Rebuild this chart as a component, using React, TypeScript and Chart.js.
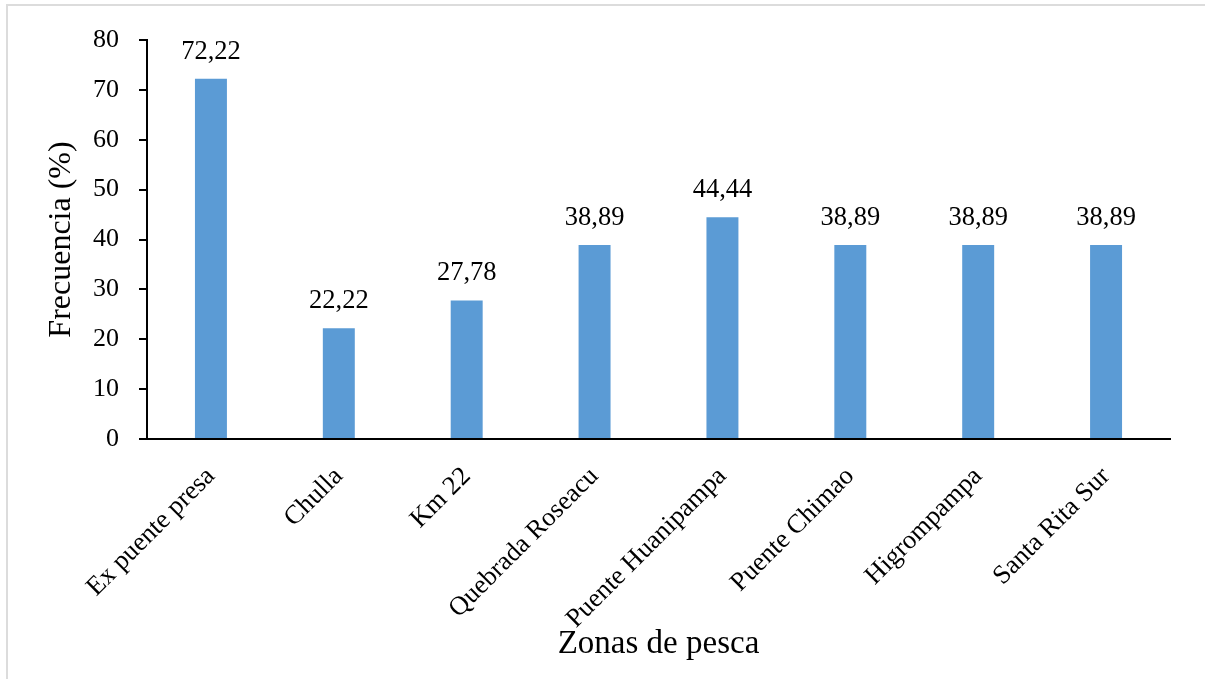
import { useEffect, useRef } from "react";
import { Chart, registerables } from "chart.js";

Chart.register(...registerables);

// Fishing zones and the frequency (%) recorded at each one
const zonas = [
  "Ex puente presa",
  "Chulla",
  "Km 22",
  "Quebrada Roseacu",
  "Puente Huanipampa",
  "Puente Chimao",
  "Higrompampa",
  "Santa Rita Sur",
];
const frecuencia = [72.22, 22.22, 27.78, 38.89, 44.44, 38.89, 38.89, 38.89];

// Value axis range
const yMin = 0;
const yMax = 80;
const yStep = 10;

const SERIF = "'Liberation Serif', 'Times New Roman', Times, serif";
const BAR_BLUE = "#5B9BD5";

// Spanish decimal format: 72.22 -> "72,22"
const fmt = (v: number) => v.toFixed(2).replace(".", ",");

// Writes each bar's value above it
const valueLabels = {
  id: "valueLabels",
  afterDatasetsDraw(chart: Chart) {
    const { ctx } = chart;
    const meta = chart.getDatasetMeta(0);
    ctx.save();
    ctx.font = `26.5px ${SERIF}`;
    ctx.fillStyle = "#000";
    ctx.textAlign = "center";
    ctx.textBaseline = "alphabetic";
    meta.data.forEach((bar: any, i: number) => {
      ctx.fillText(fmt(frecuencia[i]), bar.x, bar.y - 20);
    });
    ctx.restore();
  },
};

export default function App() {
  const canvasRef = useRef<HTMLCanvasElement | null>(null);

  useEffect(() => {
    if (!canvasRef.current) return;
    const chart = new Chart(canvasRef.current, {
      type: "bar",
      data: {
        labels: zonas,
        datasets: [
          {
            data: frecuencia,
            backgroundColor: BAR_BLUE,
            borderWidth: 0,
            barPercentage: 0.25,
            categoryPercentage: 1,
          },
        ],
      },
      options: {
        animation: false,
        responsive: true,
        maintainAspectRatio: false,
        layout: { padding: { top: 40, right: 35, bottom: 0, left: 0 } },
        plugins: {
          legend: { display: false },
          tooltip: { enabled: false },
        },
        scales: {
          x: {
            grid: { display: false },
            border: { color: "#000", width: 2 },
            ticks: {
              color: "#000",
              font: { family: SERIF, size: 26.5 },
              minRotation: 45,
              maxRotation: 45,
              autoSkip: false,
              padding: 14,
            },
            title: {
              display: true,
              text: "Zonas de pesca",
              color: "#000",
              font: { family: SERIF, size: 33 },
              padding: { top: 0, bottom: 15 },
            },
            afterFit(scale: any) {
              scale.height = 240;
            },
          },
          y: {
            min: yMin,
            max: yMax,
            ticks: {
              stepSize: yStep,
              color: "#000",
              font: { family: SERIF, size: 26 },
              padding: 20,
            },
            grid: {
              drawOnChartArea: false,
              drawTicks: true,
              tickLength: 8,
              color: "#000",
              lineWidth: 2,
            },
            border: { color: "#000", width: 2 },
            title: {
              display: true,
              text: "Frecuencia (%)",
              color: "#000",
              font: { family: SERIF, size: 32 },
              padding: { top: 42, bottom: 0 },
            },
            afterFit(scale: any) {
              scale.width = 147;
            },
          },
        },
      },
      plugins: [valueLabels],
    });
    return () => chart.destroy();
  }, []);

  return (
    <div
      style={{
        position: "fixed",
        left: 0,
        top: 0,
        width: 1205,
        height: 679,
        background: "#fff",
        overflow: "hidden",
      }}
    >
      <div
        style={{
          position: "absolute",
          left: 6,
          top: 4,
          right: 0,
          bottom: 0,
          borderTop: "2px solid #dcdcdc",
          borderLeft: "2px solid #dcdcdc",
        }}
      />
      <div style={{ position: "absolute", left: 0, top: 0, width: 1205, height: 679 }}>
        <canvas ref={canvasRef} />
      </div>
    </div>
  );
}
